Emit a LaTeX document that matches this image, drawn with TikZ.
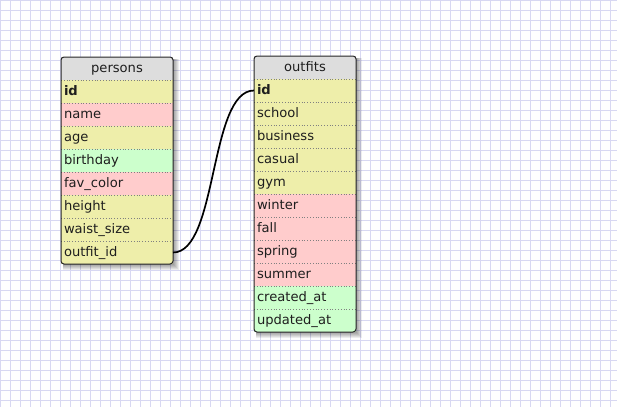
\documentclass[tikz,border=0pt]{standalone}
\usepackage{fontspec}
\setmainfont{DejaVu Sans}
\usepackage{tikz}
\usetikzlibrary{positioning}
\definecolor{gridc}{RGB}{216,216,242}
\definecolor{heady}{RGB}{221,221,221}
\definecolor{rowy}{RGB}{238,238,170}
\definecolor{rowp}{RGB}{255,204,204}
\definecolor{rowg}{RGB}{204,255,204}
\definecolor{inkc}{RGB}{30,30,30}
\pgfdeclarelayer{bg}
\pgfdeclarelayer{shade}
\pgfsetlayers{bg,shade,main}
\tikzset{
  gridline/.style={draw=gridc, line width=1pt},
  tblhead/.style={rectangle, fill=heady, text=inkc, inner sep=0pt, outer sep=0pt,
                  minimum height=23pt, text height=10.5pt, text depth=2.5pt,
                  font=\fontsize{13.1}{15}\selectfont},
  field/.style={rectangle, fill=#1, text=inkc, inner xsep=3pt, inner ysep=0pt, outer sep=0pt,
                minimum height=23pt, text height=10.5pt, text depth=2.5pt, align=left,
                font=\fontsize{13.1}{15}\selectfont},
  sep/.style={draw=black!50, dotted, line width=0.8pt},
  tblframe/.style={draw=black!85, line width=1pt, rounded corners=3pt},
  link/.style={draw=black, line width=1.7pt},
}

\begin{document}
\begin{tikzpicture}[x=1pt, y=-1pt]
  \useasboundingbox (0,0) rectangle (617,407);
  \begin{pgfonlayer}{bg}
    \fill[white] (0,0) rectangle (617,407);
    \foreach \x in {0,10,...,610} \draw[gridline] (\x,0) -- (\x,407);
    \foreach \y in {0,10,...,400} \draw[gridline] (0,\y) -- (617,\y);
  \end{pgfonlayer}

  % persons
  \node[tblhead, minimum width=112pt] (p0) at (117,68.5) {persons};
  \foreach \t/\c [count=\i, remember=\i as \j (initially 0)] in
      {\textbf{id}/rowy, name/rowp, age/rowy, birthday/rowg, fav\_color/rowp,
       height/rowy, waist\_size/rowy, outfit\_id/rowy}
    \node[field=\c, text width=106pt, below=0pt of p\j] (p\i) {\t};
  \foreach \i in {0,...,7} \draw[sep] (p\i.south west) -- (p\i.south east);
  \draw[tblframe] (p0.north west) rectangle (p8.south east);

  % outfits
  \node[tblhead, minimum width=102pt] (o0) at (305,67.5) {outfits};
  \foreach \t/\c [count=\i, remember=\i as \j (initially 0)] in
      {\textbf{id}/rowy, school/rowy, business/rowy, casual/rowy, gym/rowy,
       winter/rowp, fall/rowp, spring/rowp, summer/rowp, created\_at/rowg, updated\_at/rowg}
    \node[field=\c, text width=96pt, below=0pt of o\j] (o\i) {\t};
  \foreach \i in {0,...,10} \draw[sep] (o\i.south west) -- (o\i.south east);
  \draw[tblframe] (o0.north west) rectangle (o11.south east);

  % shadows
  \begin{pgfonlayer}{shade}
    \foreach \s in {1,...,6} {
      \fill[black, opacity=0.07] ([shift={(2,2)}]p0.north west) rectangle ([shift={(\s,\s)}]p8.south east);
      \fill[black, opacity=0.07] ([shift={(2,2)}]o0.north west) rectangle ([shift={(\s,\s)}]o11.south east);
    }
  \end{pgfonlayer}

  \draw[link] (p8.east) .. controls +(45,0) and +(-45,0) .. (o1.west);
\end{tikzpicture}
\end{document}
